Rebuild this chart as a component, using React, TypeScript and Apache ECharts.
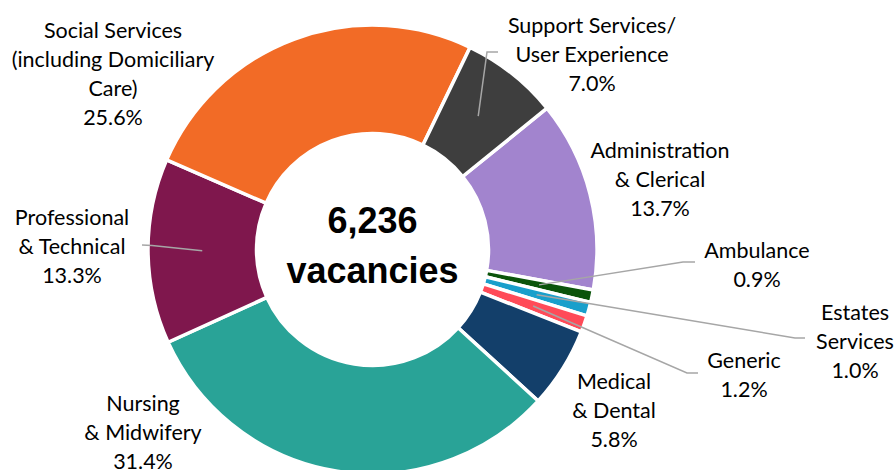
import { useEffect, useRef } from 'react';
import * as echarts from 'echarts';

// Staff groups (alphabetical order, drawn clockwise)
const categories = [
  'Administration\n& Clerical',
  'Ambulance',
  'Estates\nServices',
  'Generic',
  'Medical\n& Dental',
  'Nursing\n& Midwifery',
  'Professional\n& Technical',
  'Social Services\n(including Domiciliary\nCare)',
  'Support Services/\nUser Experience',
];
// Share of vacancies (%)
const values = [13.7, 0.9, 1.0, 1.2, 5.8, 31.4, 13.3, 25.6, 7.0];
const colors = ['#A284CE', '#0B540B', '#1A9FCB', '#FF4B58', '#133F6A', '#29A397', '#7F174D', '#F26B26', '#3E3E3E'];
const centerLines = ['6,236', 'vacancies'];

// layout (not data)
const CX = 372.5;
const CY = 249.5;
const R0 = 116;
const R1 = 224.5;
const START_ANGLE = 39; // echarts degrees (90 = 12 o'clock)
const labelPos: number[][] = [
  [660, 179],
  [757, 264],
  [855, 341],
  [744, 374.5],
  [614, 410],
  [143, 432],
  [72, 246],
  [113, 73],
  [592, 54],
];
const leaderOuter: Record<number, number[][]> = {
  1: [[683, 262], [695, 262]],
  2: [[795, 338], [805, 338]],
  3: [[687, 373], [698, 373]],
  6: [[152, 245.6], [142, 245]],
  8: [[487, 52], [498, 52]],
};

export default function App() {
  const ref = useRef<HTMLDivElement>(null);
  useEffect(() => {
    const chart = echarts.init(ref.current!, null, { renderer: 'svg' });
    const total = values.reduce((a, b) => a + b, 0);
    const midAngles: number[] = [];
    let cum = 0;
    values.forEach((v) => {
      const a0 = 90 - START_ANGLE + (cum / total) * 360;
      cum += v;
      const a1 = 90 - START_ANGLE + (cum / total) * 360;
      midAngles.push(((a0 + a1) / 2) * Math.PI / 180);
    });
    const rm = (R0 + R1) / 2;
    const leaders = Object.keys(leaderOuter).map((k) => {
      const i = Number(k);
      const a = midAngles[i];
      const inner = [CX + rm * Math.sin(a), CY - rm * Math.cos(a)];
      return {
        type: 'polyline',
        z: 100,
        silent: true,
        shape: { points: [inner, ...leaderOuter[i]] },
        style: { stroke: '#A6A6A6', lineWidth: 1.5, fill: null },
      };
    });
    chart.setOption({
      animation: false,
      backgroundColor: '#ffffff',
      graphic: [
        {
          type: 'text',
          x: CX,
          y: 245.5,
          z: 100,
          style: {
            text: centerLines.join('\n'),
            font: 'bold 36px "Liberation Sans", Arial, sans-serif',
            lineHeight: 50,
            fill: '#000',
            textAlign: 'center',
            textVerticalAlign: 'middle',
          },
        },
        ...leaders,
      ],
      series: [
        {
          type: 'pie',
          center: [CX, CY],
          radius: [R0, R1],
          startAngle: START_ANGLE,
          clockwise: true,
          avoidLabelOverlap: false,
          itemStyle: { borderColor: '#ffffff', borderWidth: 3.5 },
          label: {
            show: true,
            position: 'outside',
            formatter: (p: any) => `${p.name}\n${Number(p.value).toFixed(1)}%`,
            fontFamily: 'Lato, "Liberation Sans", sans-serif',
            fontSize: 21.5,
            lineHeight: 29,
            color: '#000',
            align: 'center',
          },
          labelLine: { show: false },
          emphasis: { disabled: true },
          labelLayout: (params: any) => {
            const pos = labelPos[params.dataIndex];
            return { x: pos[0], y: pos[1], align: 'center', verticalAlign: 'middle' };
          },
          data: categories.map((name, i) => ({
            name,
            value: values[i],
            itemStyle: { color: colors[i] },
          })),
        },
      ],
    });
    return () => chart.dispose();
  }, []);
  return (
    <div
      ref={ref}
      style={{ position: 'fixed', left: 0, top: 0, width: 895, height: 470, background: '#fff' }}
    />
  );
}
